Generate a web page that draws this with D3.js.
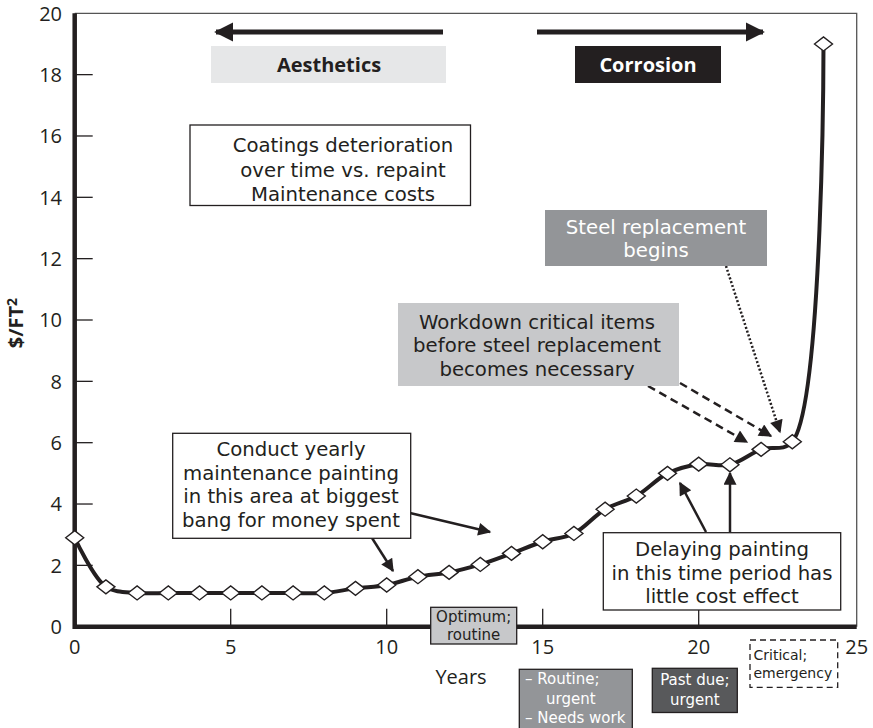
<!DOCTYPE html>
<html lang="en">
<head>
    <meta charset="utf-8">
    <title>Coatings deterioration vs. repaint cost</title>
    <script src="https://cdn.jsdelivr.net/npm/d3@7"></script>
    <style type="text/css">
      body { margin: 0; background: #fff; }
      text { font-family: "Open Sans", "Noto Sans", sans-serif; fill: #231f20; }
      text.note { font-family: "DejaVu Sans", sans-serif; }
    </style>
</head>
<body>
<script type="text/javascript">
    // data
    var years = [0, 1, 2, 3, 4, 5, 6, 7, 8, 9, 10, 11, 12, 13, 14, 15, 16, 17, 18, 19, 20, 21, 22, 23, 24];
    var costs = [2.9, 1.3, 1.1, 1.1, 1.1, 1.1, 1.1, 1.1, 1.1, 1.25, 1.36, 1.63, 1.77, 2.03, 2.39, 2.77, 3.04, 3.83, 4.26, 5.0, 5.3, 5.28, 5.78, 6.03, 19.0];
    var xTicks = [0, 5, 10, 15, 20, 25];
    var yTicks = [0, 2, 4, 6, 8, 10, 12, 14, 16, 18, 20];

    var w = 873;
    var h = 728;
    var ink = "#231f20";

    var x = d3.scaleLinear().domain([0, 25]).range([74.7, 854.7]);
    var y = d3.scaleLinear().domain([0, 20]).range([626.7, 13.3]);

    var svg = d3.select("body")
            .append("svg")
            .attr("width", w)
            .attr("height", h);

    // arrow heads
    var defs = svg.append("defs");
    function marker(id, len, wid) {
        defs.append("marker")
            .attr("id", id)
            .attr("viewBox", "0 0 10 10")
            .attr("refX", 9)
            .attr("refY", 5)
            .attr("markerUnits", "userSpaceOnUse")
            .attr("markerWidth", len)
            .attr("markerHeight", wid)
            .attr("orient", "auto")
            .append("path")
            .attr("d", "M0,0L10,5L0,10z")
            .style("fill", ink);
    }
    marker("head", 22, 13);
    marker("headBig", 19, 21);

    // frame (thin top and right)
    svg.append("path")
        .attr("d", "M" + x(0) + "," + y(20) + "H" + (x(25) + 2) + "V" + y(0))
        .style("fill", "none")
        .style("stroke", "#555")
        .style("stroke-width", 1.3);

    // y ticks point into the plot
    svg.selectAll("line.ytick")
        .data(yTicks.slice(1, -1))
        .enter()
        .append("line")
        .attr("class", "ytick")
        .attr("x1", x(0)).attr("x2", x(0) + 18)
        .attr("y1", function(d) { return y(d); })
        .attr("y2", function(d) { return y(d); })
        .style("stroke", ink).style("stroke-width", 1.3);

    svg.selectAll("text.ylab")
        .data(yTicks)
        .enter()
        .append("text")
        .attr("class", "ylab")
        .attr("x", 62)
        .attr("y", function(d) { return y(d); })
        .attr("dy", "0.36em")
        .attr("text-anchor", "end")
        .style("font-size", "20px")
        .text(function(d) { return d; });

    svg.selectAll("line.xtick")
        .data(xTicks.slice(1, -1))
        .enter()
        .append("line")
        .attr("class", "xtick")
        .attr("x1", function(d) { return x(d); })
        .attr("x2", function(d) { return x(d); })
        .attr("y1", y(0)).attr("y2", y(0) - 18)
        .style("stroke", ink).style("stroke-width", 1.3);

    svg.selectAll("text.xlab")
        .data(xTicks)
        .enter()
        .append("text")
        .attr("class", "xlab")
        .attr("x", function(d) { return x(d) + (d == 25 ? 2 : 0); })
        .attr("y", y(0) + 20)
        .attr("dy", "0.36em")
        .attr("text-anchor", "middle")
        .style("font-size", "20px")
        .text(function(d) { return d; });

    // heavy left and bottom axis
    svg.append("path")
        .attr("d", "M" + x(0) + "," + y(20) + "V" + y(0) + "H" + (x(25) + 2))
        .style("fill", "none")
        .style("stroke", ink)
        .style("stroke-width", 4.5);

    svg.append("text")
        .attr("x", 461).attr("y", 677)
        .attr("dy", "0.36em")
        .attr("text-anchor", "middle")
        .style("font-size", "20px")
        .text("Years");

    var yl = svg.append("text")
        .attr("transform", "translate(23,323) rotate(-90)")
        .attr("text-anchor", "middle")
        .style("font-size", "20px")
        .style("font-weight", "bold");
    yl.append("tspan").text("$/FT");
    yl.append("tspan").attr("dy", "-0.45em").style("font-size", "14px").text("2");

    // top direction arrows
    svg.append("line")
        .attr("x1", 443).attr("x2", 216).attr("y1", 32).attr("y2", 32)
        .style("stroke", ink).style("stroke-width", 5)
        .attr("marker-end", "url(#headBig)");
    svg.append("line")
        .attr("x1", 537).attr("x2", 763).attr("y1", 32).attr("y2", 32)
        .style("stroke", ink).style("stroke-width", 5)
        .attr("marker-end", "url(#headBig)");

    // annotation boxes: r = [x0, y0, x1, y1]; each line = [text, centre y, x offset]
    var boxes = [
        {r: [211, 46, 446, 83], fill: "#e6e7e8", stroke: "none", color: ink, size: 20, bold: true,
         cx: 329, lines: [["Aesthetics", 65]]},
        {r: [575, 46, 721, 83], fill: ink, stroke: "none", color: "#fff", size: 20, bold: true,
         cx: 648, lines: [["Corrosion", 65]]},
        {r: [190, 125, 470.5, 205.5], fill: "#fff", stroke: ink, color: ink, size: 19.7,
         cx: 343, lines: [["Coatings deterioration", 145], ["over time vs. repaint", 169.5], ["Maintenance costs", 194]]},
        {r: [545, 210, 767, 266], fill: "#939598", stroke: "none", color: "#fff", size: 19.7,
         cx: 656, lines: [["Steel replacement", 226.5], ["begins", 250]]},
        {r: [398, 303, 679, 386], fill: "#c7c8ca", stroke: "none", color: ink, size: 19.7,
         cx: 537, lines: [["Workdown critical items", 321.5], ["before steel replacement", 345], ["becomes necessary", 368.5]]},
        {r: [172.7, 433.3, 410.7, 538.3], fill: "#fff", stroke: ink, color: ink, size: 19.7,
         cx: 291, lines: [["Conduct yearly", 449], ["maintenance painting", 472.5], ["in this area at biggest", 496], ["bang for money spent", 519.5]]},
        {r: [603.3, 532.7, 840.7, 610], fill: "#fff", stroke: ink, color: ink, size: 19.7,
         cx: 722, lines: [["Delaying painting", 549], ["in this time period has", 572.5], ["little cost effect", 596]]},
        {r: [430.7, 607.3, 516.7, 644], fill: "#c7c8ca", stroke: ink, color: ink, size: 15,
         cx: 473.7, lines: [["Optimum;", 616.5], ["routine", 634.5]]},
        {r: [519.3, 669.3, 632.3, 730], fill: "#939598", stroke: ink, color: "#fff", size: 15,
         left: 525, lines: [["\u2013 Routine;", 679], ["urgent", 699, 21], ["\u2013 Needs work", 718]]},
        {r: [652.3, 668.3, 737.3, 712.5], fill: "#58595b", stroke: ink, color: "#fff", size: 15,
         cx: 694.8, lines: [["Past due;", 680], ["urgent", 700]]},
        {r: [750, 640, 837.7, 687.3], fill: "#fff", stroke: ink, dash: "6,4", color: ink, size: 14,
         left: 753.5, lines: [["Critical;", 654.5], ["emergency", 673]]}
    ];

    // curve and markers
    var pts = years.map(function(d, i) { return [d, costs[i]]; });
    var line = d3.line()
        .x(function(d) { return x(d[0]); })
        .y(function(d) { return y(d[1]); })
        .curve(d3.curveCatmullRom.alpha(0.5));

    svg.append("path")
        .datum(pts)
        .attr("d", line)
        .style("fill", "none")
        .style("stroke", ink)
        .style("stroke-width", 4)
        .style("stroke-linejoin", "round");

    svg.selectAll("path.pt")
        .data(pts)
        .enter()
        .append("path")
        .attr("class", "pt")
        .attr("transform", function(d) { return "translate(" + x(d[0]) + "," + y(d[1]) + ")"; })
        .attr("d", "M-9,0L0,-7L9,0L0,7z")
        .style("fill", "#fff")
        .style("stroke", ink)
        .style("stroke-width", 1.4);

    // pointer arrows
    var arrows = [
        {p: [410, 513, 490, 532], dash: null},
        {p: [372, 538, 393, 571], dash: null},
        {p: [706, 532, 680, 483], dash: null},
        {p: [730, 532, 730, 473], dash: null},
        {p: [648, 386, 747, 442], dash: "8,5"},
        {p: [680, 383, 771, 436], dash: "8,5"},
        {p: [726, 266, 780, 432], dash: "2,2"}
    ];
    svg.selectAll("line.ptr")
        .data(arrows)
        .enter()
        .append("line")
        .attr("class", "ptr")
        .attr("x1", function(d) { return d.p[0]; })
        .attr("y1", function(d) { return d.p[1]; })
        .attr("x2", function(d) { return d.p[2]; })
        .attr("y2", function(d) { return d.p[3]; })
        .style("stroke", ink)
        .style("stroke-width", 2.5)
        .style("stroke-dasharray", function(d) { return d.dash; })
        .attr("marker-end", "url(#head)");

    var g = svg.selectAll("g.box")
        .data(boxes)
        .enter()
        .append("g")
        .attr("class", "box");

    g.append("rect")
        .attr("x", function(d) { return d.r[0]; })
        .attr("y", function(d) { return d.r[1]; })
        .attr("width", function(d) { return d.r[2] - d.r[0]; })
        .attr("height", function(d) { return d.r[3] - d.r[1]; })
        .style("fill", function(d) { return d.fill; })
        .style("stroke", function(d) { return d.stroke; })
        .style("stroke-width", 1.3)
        .style("stroke-dasharray", function(d) { return d.dash || null; });

    // one text per box, one tspan per line
    g.each(function(d) {
        var t = d3.select(this).append("text")
            .attr("class", d.bold ? null : "note")
            .attr("text-anchor", d.left != null ? "start" : "middle")
            .style("font-size", d.size + "px")
            .style("font-weight", d.bold ? "bold" : null)
            .style("fill", d.color);
        d.lines.forEach(function(l) {
            t.append("tspan")
                .attr("x", (d.left != null ? d.left : d.cx) + (l[2] || 0))
                .attr("y", l[1] + d.size * 0.36)
                .text(l[0]);
        });
    });
</script>
</body>
</html>
